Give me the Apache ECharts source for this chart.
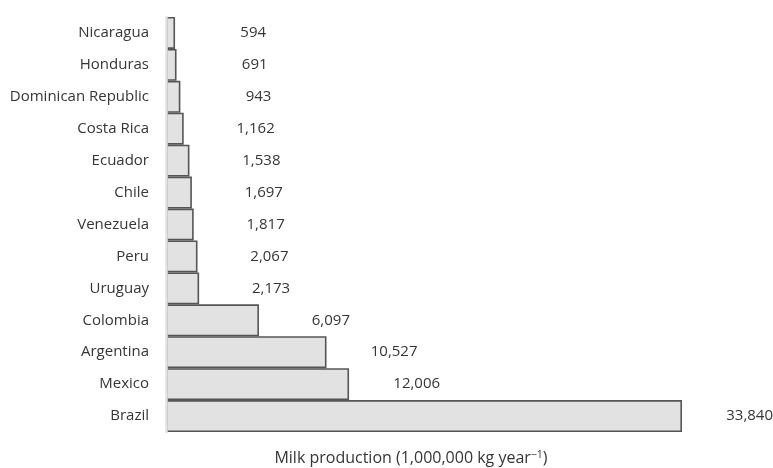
<!DOCTYPE html>
<html>
<head>
<meta charset="utf-8">
<script src="https://cdn.jsdelivr.net/npm/echarts@6/dist/echarts.min.js"></script>
<style>
  html, body { margin: 0; padding: 0; background: #ffffff; }
  #chart { width: 773px; height: 468px; }
</style>
</head>
<body>
<div id="chart"></div>
<script>
// Countries, listed bottom to top on the category axis
const countries = [
  'Brazil', 'Mexico', 'Argentina', 'Colombia', 'Uruguay', 'Peru',
  'Venezuela', 'Chile', 'Ecuador', 'Costa Rica', 'Dominican Republic',
  'Honduras', 'Nicaragua'
];
// Milk production, 1,000,000 kg per year
const milkProduction = [
  33840, 12006, 10527, 6097, 2173, 2067,
  1817, 1697, 1538, 1162, 943,
  691, 594
];
const axisTitle = 'Milk production (1,000,000 kg year';

function withThousands(v) {
  return String(v).replace(/\B(?=(\d{3})+(?!\d))/g, ',');
}

const FONT = '"Open Sans", "Noto Sans", sans-serif';
const TEXT = '#363636';

const chart = echarts.init(document.getElementById('chart'), null, { renderer: 'canvas' });
chart.setOption({
  animation: false,
  backgroundColor: '#ffffff',
  grid: { left: 166, right: 91, top: 17, bottom: 36, containLabel: false, outerBoundsMode: 'none' },
  xAxis: {
    type: 'value',
    min: 0,
    max: 'dataMax',
    axisLine: { show: false },
    axisTick: { show: false },
    axisLabel: { show: false },
    splitLine: { show: false },
    name: axisTitle + '{sup|\u22121})',
    nameLocation: 'middle',
    nameGap: 18,
    nameTextStyle: {
      fontFamily: FONT,
      fontSize: 16,
      color: TEXT,
      padding: [0, 26, 0, 0],
      rich: {
        sup: { fontFamily: FONT, fontSize: 10.5, color: TEXT, verticalAlign: 'top', padding: [0, 0, 6, 0] }
      }
    }
  },
  yAxis: {
    type: 'category',
    data: countries,
    z: 10,
    axisLine: { show: true, lineStyle: { color: '#e2e2e2', width: 2.5 } },
    axisTick: { show: false },
    axisLabel: { fontFamily: FONT, fontSize: 15, color: TEXT, margin: 17 },
    splitLine: { show: false }
  },
  series: [{
    type: 'bar',
    data: milkProduction,
    barCategoryGap: 0,
    itemStyle: { color: '#e2e2e2', borderColor: '#555555', borderWidth: 1.6 },
    label: {
      show: true,
      position: 'right',
      distance: 91,
      align: 'right',
      fontFamily: FONT,
      fontSize: 15,
      color: TEXT,
      formatter: p => withThousands(p.value)
    }
  }]
});
</script>
</body>
</html>
